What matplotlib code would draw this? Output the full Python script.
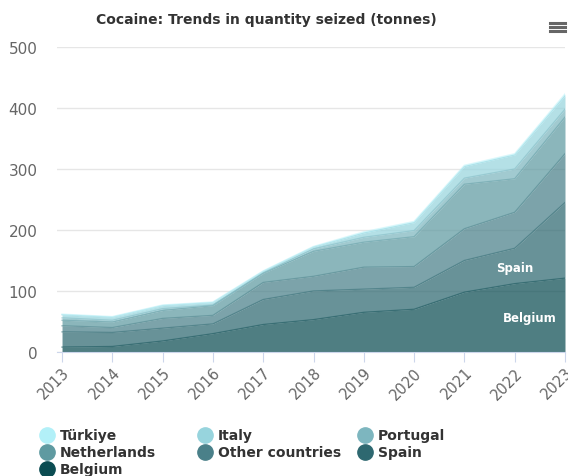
import numpy as np
import matplotlib
matplotlib.use('Agg')
from matplotlib import pyplot as plt
from matplotlib.lines import Line2D

# data (tonnes), stacked bottom -> top
years = [2013, 2014, 2015, 2016, 2017, 2018, 2019, 2020, 2021, 2022, 2023]
belgium = [8, 9, 18, 30, 45, 53, 65, 70, 98, 112, 121]
spain = [25, 23, 21, 16, 41, 47, 38, 36, 52, 58, 124]
other = [10, 8, 16, 14, 28, 24, 36, 34, 52, 59, 80]
netherlands = [9, 9, 13, 16, 15, 41, 41, 49, 73, 55, 60]
portugal = [4, 3, 3, 1, 1, 4, 8, 10, 10, 16, 13]
italy = [5, 5, 5, 4, 2, 3, 7, 13, 19, 23, 22]
turkiye = [1, 1, 1, 1, 1, 1, 2, 2, 2, 2, 3]

names = ['Belgium', 'Spain', 'Other countries', 'Netherlands', 'Portugal', 'Italy', 'Türkiye']
series = [belgium, spain, other, netherlands, portugal, italy, turkiye]
colors = ['#0b4c52', '#2e6870', '#4a8089', '#5f9aa1', '#7db6bf', '#97d4dd', '#b2f0f8']

fig = plt.figure(figsize=(5.68, 4.77), dpi=100)
ax = fig.add_axes([57/568, 1-353/477, 508/568, 305/477])

base = np.zeros(len(years))
for name, vals, col in zip(names, series, colors):
    top = base + np.array(vals)
    ax.fill_between(years, base, top, color=col, alpha=0.72, lw=0)
    ax.plot(years, top, color=col, alpha=0.5, lw=1)
    base = top

ax.set_xlim(2012.9, 2023)
ax.set_ylim(0, 500)
ax.set_yticks([0, 100, 200, 300, 400, 500])
ax.set_xticks(years)
ax.set_xticklabels([str(y) for y in years], rotation=45, ha='right', rotation_mode='anchor')
ax.grid(axis='y', color='#e6e6e6', lw=1)
ax.set_axisbelow(True)
for s in ['top', 'right', 'left']:
    ax.spines[s].set_visible(False)
ax.spines['bottom'].set_color('#ccd6eb')
ax.tick_params(axis='y', length=0, labelsize=11, colors='#666666', pad=14)
ax.tick_params(axis='x', length=7, color='#ccd6eb', labelsize=10.5, labelcolor='#666666', pad=2)

# series labels
ax.text(2022, 139, 'Spain', color='white', fontsize=8.5, fontweight='bold', ha='center', va='center')
ax.text(2022.3, 57, 'Belgium', color='white', fontsize=8.5, fontweight='bold', ha='center', va='center')

fig.text(266/568, 1-20/477, 'Cocaine: Trends in quantity seized (tonnes)', ha='center', va='center',
         fontsize=10, fontweight='bold', color='#333333')

# menu icon
for yy in [24, 28, 32]:
    fig.add_artist(Line2D([550/568, 565/568], [1-yy/477, 1-yy/477], color='#666666', lw=2.2))

# legend, 3 columns, top to bottom order
leg_names = names[::-1]
leg_cols = colors[::-1]
xs = [47, 205, 365]
ys = [436, 453, 470]
for i, (n, c) in enumerate(zip(leg_names, leg_cols)):
    col, row = i % 3, i // 3
    fig.add_artist(Line2D([xs[col]/568], [1-ys[row]/477], marker='o', ms=11, color=c, lw=0))
    fig.text((xs[col]+13)/568, 1-ys[row]/477, n, ha='left', va='center', fontsize=10,
             fontweight='bold', color='#333333')

fig.savefig('out.png', dpi=100)
